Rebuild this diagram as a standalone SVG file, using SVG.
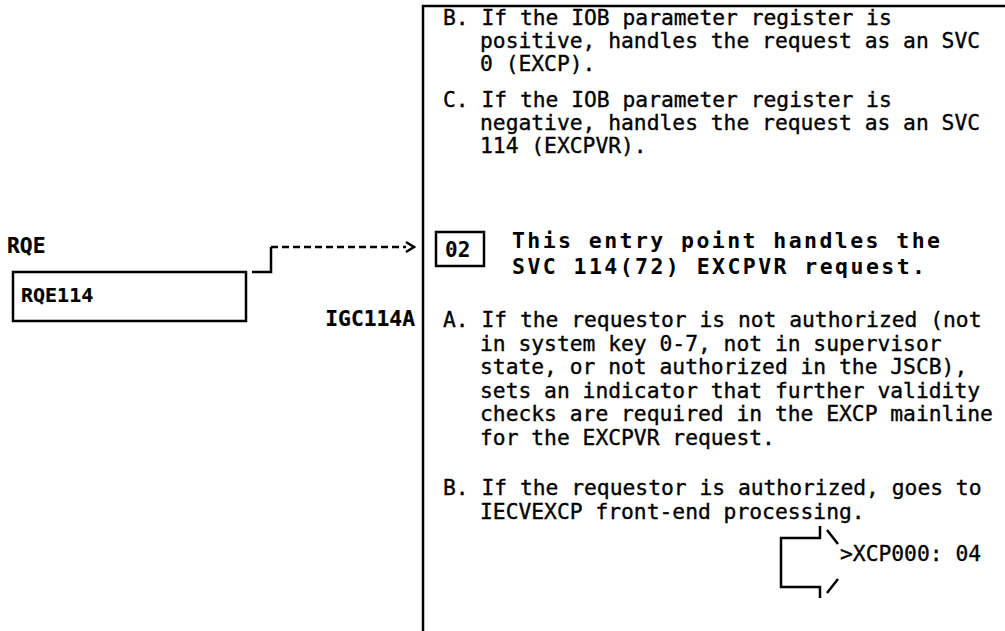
<svg xmlns="http://www.w3.org/2000/svg" width="1005" height="631" viewBox="0 0 1005 631">
<defs>
<style>
.t{font-family:"DejaVu Sans Mono","Liberation Mono",monospace;font-size:21.3px;fill:#000;stroke:#000;stroke-width:0.35}
.b{font-weight:bold;stroke-width:0.2}
.h{font-family:"DejaVu Sans Mono","Liberation Mono",monospace;font-size:21.5px;font-weight:bold;fill:#000}
.ln{fill:none;stroke:#000;stroke-width:2.5}
.dash{fill:none;stroke:#000;stroke-width:2.5;stroke-dasharray:7 4}
</style>
</defs>
<rect width="1005" height="631" fill="#fff"/>
<g id="module-box">
<path class="ln" d="M1005 6 H423 V631"/>
</g>
<g id="text-top">
<text class="t" x="443" y="25">B. If the IOB parameter register is</text>
<text class="t" x="480" y="48">positive, handles the request as an SVC</text>
<text class="t" x="480" y="71">0 (EXCP).</text>
<text class="t" x="443" y="107">C. If the IOB parameter register is</text>
<text class="t" x="480" y="130">negative, handles the request as an SVC</text>
<text class="t" x="480" y="153">114 (EXCPVR).</text>
</g>
<g id="step-02">
<rect class="ln" x="436" y="232" width="48" height="34"/>
<text class="h" x="445" y="257" style="font-size:21px">02</text>
<text class="h" x="512" y="248" textLength="428" lengthAdjust="spacing">This entry point handles the</text>
<text class="h" x="512" y="274" textLength="413" lengthAdjust="spacing">SVC 114(72) EXCPVR request.</text>
</g>
<g id="entry-label">
<text class="t b" x="415" y="326" text-anchor="end">IGC114A</text>
</g>
<g id="text-bottom">
<text class="t" x="443" y="327">A. If the requestor is not authorized (not</text>
<text class="t" x="480" y="350.5">in system key 0-7, not in supervisor</text>
<text class="t" x="480" y="374">state, or not authorized in the JSCB),</text>
<text class="t" x="480" y="397.5">sets an indicator that further validity</text>
<text class="t" x="480" y="421">checks are required in the EXCP mainline</text>
<text class="t" x="480" y="444.5">for the EXCPVR request.</text>
<text class="t" x="443" y="495">B. If the requestor is authorized, goes to</text>
<text class="t" x="480" y="519">IECVEXCP front-end processing.</text>
</g>
<g id="rqe">
<text class="t b" x="7" y="253">RQE</text>
<rect class="ln" x="13" y="272" width="233" height="49"/>
<text class="t b" x="21" y="302" style="font-size:20px">RQE114</text>
</g>
<g id="xcp000">
<path class="ln" d="M820 526 V538 H781 V587 H820 V598"/>
<path class="ln" d="M827 530 L838 544 M838 579 L827 593"/>
<text class="t" x="840" y="561">&gt;XCP000: 04</text>
</g>
<g id="connectors">
<path class="ln" d="M252 272 H271 V247"/>
<path class="dash" d="M271 247 H406"/>
<path class="ln" d="M406 242 L414 247 L406 252"/>
</g>
</svg>
